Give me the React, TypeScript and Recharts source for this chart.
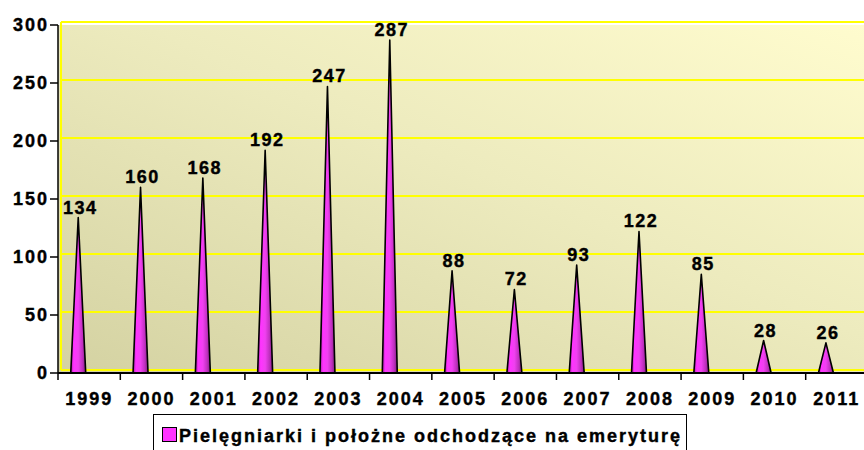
import React from 'react';
import { BarChart, Bar, XAxis, YAxis, CartesianGrid, Legend, LabelList } from 'recharts';

const years = ['1999', '2000', '2001', '2002', '2003', '2004', '2005', '2006', '2007', '2008', '2009', '2010', '2011'];
const retiring = [134, 160, 168, 192, 247, 287, 88, 72, 93, 122, 85, 28, 26];
const yTicks = [0, 50, 100, 150, 200, 250, 300];
const seriesName = 'Pielęgniarki i położne odchodzące na emeryturę';

const data = years.map((year, i) => ({ year, value: retiring[i] }));

const FONT = '"Liberation Sans", Arial, sans-serif';
const SPIKE_SHIFT = -11;

const Spike = (props: any) => {
  const { x, y, width, height } = props;
  if (height == null || isNaN(height)) return null;
  const cx = x + width / 2 + SPIKE_SHIFT;
  const base = y + height;
  return (
    <path
      d={`M${cx - 7.5},${base} L${cx},${y} L${cx + 7.5},${base} Z`}
      fill="url(#spikeGrad)"
      stroke="#000"
      strokeWidth={1.6}
      strokeLinejoin="round"
    />
  );
};

const SpikeLabel = (props: any) => {
  const { x, y, width, value } = props;
  return (
    <text
      x={x + width / 2 + SPIKE_SHIFT + 2}
      y={y - 4}
      textAnchor="middle"
      fontFamily={FONT}
      fontSize={18}
      fontWeight="bold"
      letterSpacing={1.5}
      fill="#000"
      stroke="#000"
      strokeWidth={0.4}
    >
      {value}
    </text>
  );
};

const XTick = (props: any) => {
  const { x, y, payload, width, visibleTicksCount } = props;
  const band = width / visibleTicksCount;
  return (
    <g>
      <line x1={x - band / 2} x2={x - band / 2} y1={y} y2={y + 7} stroke="#000" strokeWidth={1.5} />
      <text
        x={x}
        y={y + 32}
        textAnchor="middle"
        fontFamily={FONT}
        fontSize={18}
        fontWeight="bold"
        letterSpacing={2}
        fill="#000"
        stroke="#000"
        strokeWidth={0.4}
      >
        {payload.value}
      </text>
    </g>
  );
};

const GridLine = (props: any) => {
  const { x1, x2, y1, y2 } = props;
  return <line x1={x1 + 3} x2={x2} y1={y1 - 3} y2={y2 - 3} stroke="#FFFF00" strokeWidth={2} />;
};

const WallLine = (props: any) => {
  const { x1, x2, y1, y2 } = props;
  return <line x1={x1} x2={x2} y1={y1 - 3} y2={y2 - 3} stroke="#FFFF00" strokeWidth={2} />;
};

const LegendBox = (props: any) => {
  const { payload } = props;
  const label = payload && payload.length ? payload[0].value : seriesName;
  return (
    <div
      style={{
        position: 'relative',
        width: 534,
        height: 46,
        border: '1.5px solid #000',
        boxSizing: 'border-box',
        background: '#fff',
      }}
    >
      <div
        style={{
          position: 'absolute',
          left: 8,
          top: 12,
          width: 13,
          height: 13,
          background: '#FF33FF',
          border: '1.5px solid #000',
        }}
      />
      <span
        style={{
          position: 'absolute',
          left: 25,
          top: 12,
          fontFamily: FONT,
          fontSize: 18,
          fontWeight: 'bold',
          letterSpacing: 2,
          lineHeight: '18px',
          whiteSpace: 'nowrap',
          color: '#000',
          WebkitTextStroke: '0.4px #000',
        }}
      >
        {label}
      </span>
    </div>
  );
};

const YTickStyle = {
  fill: '#000',
  fontSize: 18,
  fontWeight: 'bold',
  fontFamily: FONT,
  letterSpacing: 2,
  stroke: '#000',
  strokeWidth: 0.4,
};

export default function App() {
  return (
    <div style={{ position: 'absolute', left: 0, top: 0, width: 864, height: 450, overflow: 'hidden', background: '#fff' }}>
      <BarChart
        width={870}
        height={450}
        data={data}
        margin={{ top: 25, right: 2, bottom: 0, left: 0 }}
        barCategoryGap="10%"
      >
        <defs>
          <linearGradient id="wallGrad" x1="0" y1="1" x2="1" y2="0">
            <stop offset="0%" stopColor="#D4D2A2" />
            <stop offset="55%" stopColor="#EDEBBE" />
            <stop offset="100%" stopColor="#FFFCCE" />
          </linearGradient>
          <linearGradient id="spikeGrad" x1="0" y1="0" x2="1" y2="0">
            <stop offset="0%" stopColor="#A020A0" />
            <stop offset="20%" stopColor="#FF33FF" />
            <stop offset="50%" stopColor="#F040F0" />
            <stop offset="78%" stopColor="#C030C0" />
            <stop offset="100%" stopColor="#802080" />
          </linearGradient>
        </defs>
        <CartesianGrid
          fill="url(#wallGrad)"
          horizontal={GridLine}
          vertical={WallLine}
          verticalCoordinatesGenerator={({ offset }: any) => [offset.left + 3]}
          stroke="#FFFF00"
        />
        <XAxis
          dataKey="year"
          interval={0}
          height={77}
          tickSize={0}
          tickMargin={0}
          tickLine={false}
          axisLine={{ stroke: '#000', strokeWidth: 2 }}
          tick={<XTick />}
        />
        <YAxis
          width={58}
          domain={[0, 300]}
          ticks={yTicks}
          interval={0}
          tickSize={8}
          tickMargin={1}
          axisLine={{ stroke: '#000', strokeWidth: 1.5 }}
          tickLine={{ stroke: '#000', strokeWidth: 1.5 }}
          tick={YTickStyle}
        />
        <Legend
          layout="horizontal"
          verticalAlign="middle"
          align="center"
          content={<LegendBox />}
          wrapperStyle={{ left: 153, top: 414, width: 534, height: 46 }}
        />
        <Bar dataKey="value" name={seriesName} shape={<Spike />} isAnimationActive={false} fill="#FF33FF">
          <LabelList dataKey="value" content={<SpikeLabel />} />
        </Bar>
      </BarChart>
    </div>
  );
}
